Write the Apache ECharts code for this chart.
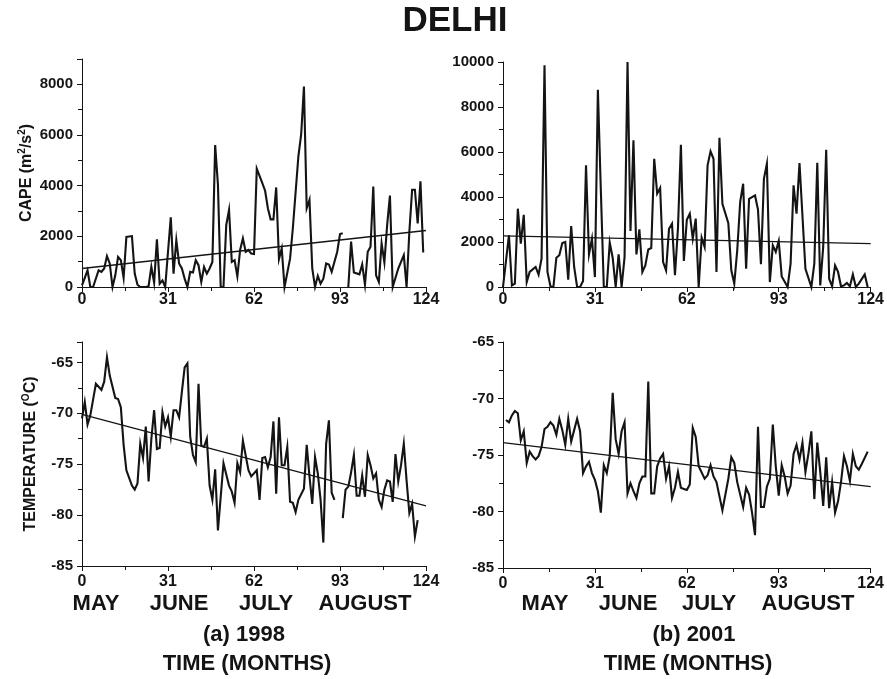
<!DOCTYPE html>
<html>
<head>
<meta charset="utf-8">
<script src="https://cdn.jsdelivr.net/npm/echarts@6/dist/echarts.min.js"></script>
<style>
  html, body { margin: 0; padding: 0; background: #fff; }
  #chart { width: 887px; height: 679px; }
</style>
</head>
<body>
<div id="chart"></div>
<script>
// Day of season (0 = 1 May) and daily CAPE / upper-air temperature over Delhi.
const dayTicks = [0, 31, 62, 93, 124];
const monthNames = ['MAY', 'JUNE', 'JULY', 'AUGUST'];

const capeDays1998 = [0,2,3,4,6,7,8,9,10,11,12,13,14,15,16,18,19,20,21,23,24,25,26,27,28,29,30,31,32,33,34,35,36,37,38,39,40,41,42,43,44,45,46,47,48,49,50,51,52,53,54,55,56,57,58,59,60,61,62,63,65,66,67,68,69,70,71,72,73,75,76,78,79,80,81,82,83,84,85,86,87,88,89,90,92,93,94,95,96,97,98,100,101,102,103,104,105,106,107,108,109,110,111,112,114,116,117,118,119,120,121,122,123];
const cape1998 = [60,660,0,0,660,600,730,1220,930,0,460,1190,1060,360,1980,2010,530,90,0,0,30,800,170,1880,130,260,0,1390,2750,530,1850,930,730,330,0,600,570,1060,860,200,790,530,730,990,5600,4040,0,0,2450,3040,990,1060,420,1460,1920,1390,1460,1320,1300,4670,4100,3800,3110,2670,2670,3930,1100,1520,0,1120,2320,5160,6020,7910,3110,3440,730,0,440,130,330,930,890,600,1390,2090,2120,null,0,1790,570,500,890,90,1390,1590,3970,460,200,1720,970,2450,3610,0,730,1260,0,2180,3840,3840,2510,4170,1360];

const capeDays2001 = [0,2,3,4,5,6,7,8,9,11,12,13,14,15,16,17,18,19,20,21,22,23,24,25,26,27,28,29,30,31,32,33,34,35,36,37,38,39,40,41,42,43,44,45,46,47,48,49,50,51,52,53,54,55,56,57,58,59,60,61,62,63,64,65,66,67,68,69,70,71,72,73,74,76,77,78,79,80,81,82,83,85,86,87,88,89,90,91,92,93,94,96,97,98,99,100,102,104,105,106,107,108,109,110,111,112,113,114,115,116,117,118,119,120,122,123];
const cape2001 = [0,2300,70,150,3480,1930,3210,220,670,890,550,1260,9850,670,30,0,1300,1410,1950,2000,330,2710,890,0,0,270,5410,1450,2150,440,8770,4300,0,0,1970,1290,0,1450,0,1330,10000,2490,6520,1450,2560,670,960,1670,1730,5700,4150,4400,1110,740,2590,2810,520,2590,6320,1160,2990,3260,2150,3040,0,2190,1780,5410,6030,5700,670,6630,3700,2840,740,150,1630,3780,4590,810,3920,4070,3440,1010,4810,5480,220,1850,1560,2040,470,0,1040,4520,3260,5510,810,0,1040,5520,70,1780,6100,370,30,960,670,30,70,180,30,560,0,150,560,0];

const tempDays1998 = [0,1,2,3,5,6,7,8,9,10,12,13,14,15,16,18,19,20,21,22,23,24,25,26,27,28,29,30,31,32,33,34,35,36,37,38,39,40,41,42,43,44,45,46,47,48,49,51,53,54,55,56,57,58,60,61,63,64,65,66,67,68,69,70,71,72,73,74,75,76,77,78,80,81,82,83,84,85,86,87,88,89,90,91,92,94,95,96,97,98,99,100,101,102,103,104,105,106,107,108,109,110,111,112,113,114,115,116,117,118,119,120,121];
const temp1998 = [-70.5,-68.9,-71.1,-70.2,-67.1,-67.4,-67.7,-66.9,-64.5,-66.3,-68.5,-68.6,-69.4,-73.1,-75.6,-77.1,-77.5,-76.9,-73.0,-74.4,-71.3,-76.7,-72.5,-69.7,-73.5,-73.4,-69.9,-71.3,-70.4,-72.3,-69.7,-69.7,-70.4,-67.9,-65.5,-65.1,-72.3,-74.1,-74.8,-67.1,-73.2,-73.3,-72.5,-77.1,-78.5,-75.5,-81.5,-74.9,-77.1,-77.7,-78.8,-74.9,-75.8,-72.7,-75.6,-76.2,-75.6,-78.5,-74.4,-74.3,-75.3,-74.3,-70.8,-77.9,-70.4,-75.1,-75.1,-73.3,-78.7,-78.8,-79.7,-78.5,-77.4,-73.1,-76.2,-78.9,-74.3,-75.9,-78.5,-82.7,-73.0,-70.7,-77.8,-78.5,null,-80.3,-77.5,-77.2,-75.8,-74.1,-78.1,-78.1,-76.1,-78.2,-74.1,-75.1,-76.4,-75.9,-78.5,-79.2,-77.5,-76.6,-76.7,-78.7,-74.0,-76.7,-75.1,-73.0,-76.6,-79.8,-78.9,-82.1,-80.5];

const tempDays2001 = [1,2,3,4,5,6,7,8,9,10,11,12,13,14,15,16,17,18,19,20,21,22,23,24,25,26,27,28,29,30,31,32,33,34,35,36,37,38,39,40,41,42,43,44,45,46,47,48,49,50,51,52,53,54,55,56,57,58,59,60,61,62,63,64,65,66,68,69,70,71,72,74,76,77,78,79,81,82,83,84,85,86,87,88,89,90,91,92,93,94,95,96,97,98,99,100,101,102,103,104,105,106,107,108,109,110,111,112,113,114,115,116,117,118,119,120,121,123];
const temp2001 = [-71.9,-72.1,-71.5,-71.1,-71.3,-73.7,-72.9,-75.7,-74.7,-75.1,-75.4,-75.1,-74.3,-72.7,-72.5,-72.1,-72.4,-73.2,-71.8,-72.8,-74.1,-71.8,-73.8,-72.8,-71.8,-72.9,-76.6,-76.0,-75.6,-76.6,-77.2,-78.2,-80.1,-75.9,-76.6,-75.1,-69.5,-73.6,-74.9,-72.9,-72.1,-78.4,-77.5,-78.2,-78.8,-77.5,-76.9,-76.9,-68.5,-78.4,-78.4,-76.0,-75.3,-74.9,-77.1,-76.0,-78.8,-77.9,-76.5,-77.9,-78.0,-78.1,-77.6,-72.6,-73.4,-76.0,-77.1,-76.8,-75.9,-76.9,-77.4,-79.9,-77.1,-75.2,-75.7,-77.4,-79.6,-77.9,-78.5,-80.1,-82.1,-72.5,-79.6,-79.6,-77.8,-77.1,-72.3,-76.0,-78.6,-75.9,-76.9,-78.4,-77.7,-74.9,-74.1,-75.4,-73.9,-76.5,-74.9,-72.9,-78.9,-73.9,-76.5,-79.5,-75.2,-79.7,-77.4,-80.1,-79.1,-77.4,-75.1,-76.0,-77.3,-74.9,-76.0,-76.3,-75.8,-74.7];

// Linear trend end points (day 0 and day 124)
const trendDays = [0, 124];
const capeTrend1998 = [730, 2230];
const capeTrend2001 = [2270, 1930];
const tempTrend1998 = [-70.1, -79.1];
const tempTrend2001 = [-73.9, -77.8];

const FONT = "'Liberation Sans', Arial, Helvetica, sans-serif";
const INK = '#141414';

function pairs(xs, ys) {
  return xs.map((x, i) => [x, ys[i] === null ? '-' : ys[i]]);
}

function xAxisCfg(gridIndex, labelMargin) {
  return {
    type: 'value', gridIndex, min: 0, max: 124, interval: 31,
    axisLine: { lineStyle: { color: INK, width: 1 } },
    axisTick: { length: 5, lineStyle: { color: INK } },
    minorTick: { show: true, splitNumber: 2, length: 4, lineStyle: { color: INK } },
    splitLine: { show: false },
    axisLabel: {
      margin: labelMargin, color: INK, fontFamily: FONT, fontWeight: 'bold', fontSize: 16,
      formatter: v => (dayTicks.indexOf(v) >= 0 ? String(v) : '')
    }
  };
}

const supRich = {
  a: { fontFamily: FONT, fontWeight: 'bold', fontSize: 16, color: INK, lineHeight: 18, verticalAlign: 'bottom' },
  s: { fontFamily: FONT, fontWeight: 'bold', fontSize: 10, color: INK, lineHeight: 10, verticalAlign: 'top' }
};

// Tick labels stop at the last whole interval; the axis itself may run a little past it.
function yAxisCfg(gridIndex, min, max, interval, name, nameGap) {
  const lastTick = min + Math.floor((max - min) / interval) * interval;
  return {
    type: 'value', gridIndex, min, max, interval,
    name: name || '', nameLocation: 'middle', nameRotate: 90, nameGap: nameGap || 47,
    nameTextStyle: { rich: supRich },
    axisLine: { show: true, lineStyle: { color: INK, width: 1 } },
    axisTick: { show: true, length: 5, lineStyle: { color: INK } },
    minorTick: { show: true, splitNumber: 2, length: 4, lineStyle: { color: INK } },
    splitLine: { show: false },
    axisLabel: {
      margin: 9, color: INK, fontFamily: FONT, fontWeight: 'bold', fontSize: 15,
      formatter: v => (v > lastTick + 1e-9 ? '' : String(v))
    }
  };
}

function dataLine(idx, xs, ys) {
  return {
    type: 'line', xAxisIndex: idx, yAxisIndex: idx, data: pairs(xs, ys),
    showSymbol: false, connectNulls: false, silent: true, clip: false,
    lineStyle: { color: INK, width: 2.1, join: 'miter' }
  };
}

function trendLine(idx, ys) {
  return {
    type: 'line', xAxisIndex: idx, yAxisIndex: idx, data: pairs(trendDays, ys),
    showSymbol: false, silent: true,
    lineStyle: { color: INK, width: 1.3 }
  };
}

function label(text, x, y, size) {
  return {
    type: 'text', x, y, silent: true,
    style: {
      text, fill: INK, font: 'bold ' + size + 'px ' + FONT,
      align: 'center', verticalAlign: 'middle',
      textAlign: 'center', textVerticalAlign: 'middle'
    }
  };
}

const leftMonthX = [96, 179, 266, 365];
const rightMonthX = [545, 628, 709, 808];
const graphics = [label('DELHI', 455, 21, 35)];
monthNames.forEach((m, i) => {
  graphics.push(label(m, leftMonthX[i], 604, 22));
  graphics.push(label(m, rightMonthX[i], 604, 22));
});
graphics.push(label('(a) 1998', 244, 635, 22));
graphics.push(label('TIME (MONTHS)', 247, 664, 22));
graphics.push(label('(b) 2001', 694, 635, 22));
graphics.push(label('TIME (MONTHS)', 688, 664, 22));

const chart = echarts.init(document.getElementById('chart'), null, { renderer: 'canvas' });
chart.setOption({
  backgroundColor: '#ffffff',
  animation: false,
  grid: [
    { left: 82, top: 59, width: 344, height: 228 },
    { left: 503, top: 62, width: 368, height: 225 },
    { left: 82, top: 342, width: 344, height: 224 },
    { left: 503, top: 342, width: 368, height: 226 }
  ],
  xAxis: [xAxisCfg(0, 5), xAxisCfg(1, 5), xAxisCfg(2, 8), xAxisCfg(3, 8)],
  yAxis: [
    yAxisCfg(0, 0, 9000, 2000, '{a|CAPE (m}{s|2}{a|/s}{s|2}{a|)}', 47),
    yAxisCfg(1, 0, 10000, 2000),
    yAxisCfg(2, -85, -63, 5, '{a|TEMPERATURE (}{s|O}{a|C)}', 43),
    yAxisCfg(3, -85, -65, 5)
  ],
  series: [
    dataLine(0, capeDays1998, cape1998), trendLine(0, capeTrend1998),
    dataLine(1, capeDays2001, cape2001), trendLine(1, capeTrend2001),
    dataLine(2, tempDays1998, temp1998), trendLine(2, tempTrend1998),
    dataLine(3, tempDays2001, temp2001), trendLine(3, tempTrend2001)
  ],
  graphic: graphics
});
</script>
</body>
</html>
